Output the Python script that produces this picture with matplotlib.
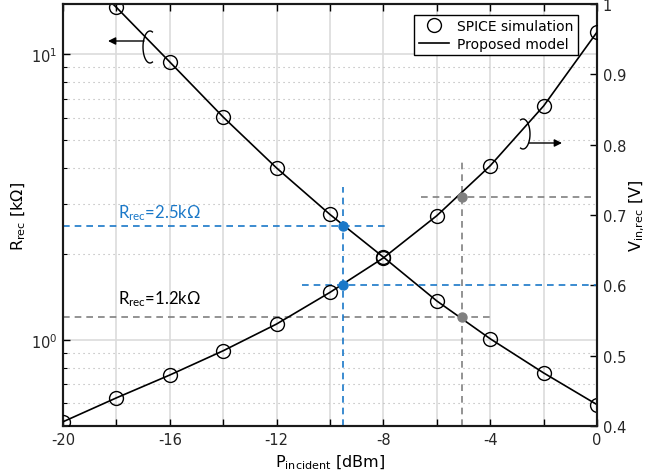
import numpy as np
import matplotlib
matplotlib.use("Agg")
import matplotlib.pyplot as plt
from matplotlib.ticker import NullFormatter, LogLocator
from matplotlib.lines import Line2D

plt.rcParams['mathtext.rm'] = 'Lato'
plt.rcParams['mathtext.it'] = 'Lato:italic'
plt.rcParams['mathtext.bf'] = 'Lato:bold'

# data
p_in = [-20, -18, -16, -14, -12, -10, -8, -6, -4, -2, 0]
r_rec = [22.0, 14.6, 9.4, 6.03, 4.0, 2.75, 1.95, 1.37, 1.01, 0.767, 0.594]
v_in = [0.406, 0.440, 0.4725, 0.507, 0.545, 0.590, 0.639, 0.699, 0.770, 0.855, 0.960]

x_ticks = [-20, -18, -16, -14, -12, -10, -8, -6, -4, -2, 0]
x_labels = ['-20', '', '-16', '', '-12', '', '-8', '', '-4', '', '0']
v_ticks = [0.4, 0.5, 0.6, 0.7, 0.8, 0.9, 1.0]
v_labels = ['0.4', '0.5', '0.6', '0.7', '0.8', '0.9', '1']

# operating points
blue_p, blue_r, blue_v = -9.5, 2.5, 0.6
gray_p, gray_r, gray_v = -5.05, 1.2, 0.726

blue = '#1a78c8'
gray = '#808080'
tick_col = '#262626'

fig = plt.figure(figsize=(6.49, 4.77), dpi=100)
ax1 = fig.add_subplot(111)
fig.subplots_adjust(left=63/649, right=597/649, top=1-5/477, bottom=1-427/477)
ax2 = ax1.twinx()

# left axis: R_rec (log)
ax1.set_yscale('log')
ax1.set_xlim(-20, 0)
ax1.set_ylim(0.5, 15)
ax1.yaxis.set_minor_locator(LogLocator(base=10, subs=np.arange(2, 10)))
ax1.yaxis.set_minor_formatter(NullFormatter())
ax1.set_xticks(x_ticks)
ax1.set_xticklabels(x_labels)
ax1.grid(which='major', axis='both', color='#dcdcdc', lw=1.2, ls='-')
ax1.grid(which='minor', axis='y', color='#b0b0b0', lw=0.8, ls=(0, (1, 3.5)))
ax1.set_axisbelow(True)

ax1.plot(p_in, r_rec, '-', color='black', lw=1.2, zorder=3)
ax1.plot(p_in, r_rec, 'o', mfc='none', mec='black', ms=10, mew=1.0, zorder=3)

# right axis: V_in,rec
ax2.set_ylim(0.4, 1.0)
ax2.set_yticks(v_ticks)
ax2.set_yticklabels(v_labels)
ax2.plot(p_in, v_in, '-', color='black', lw=1.2, zorder=3)
ax2.plot(p_in, v_in, 'o', mfc='none', mec='black', ms=10, mew=1.0, zorder=3)

# dashed guide lines
dash = (0, (4, 3))
ax1.plot([-20, -7.87], [blue_r, blue_r], color=blue, lw=1.2, ls=dash)
ax2.plot([blue_p, blue_p], [0.4, 0.74], color=blue, lw=1.2, ls=dash)
ax2.plot([-11.05, 0], [blue_v, blue_v], color=blue, lw=1.2, ls=dash)
ax1.plot(blue_p, blue_r, 'o', color=blue, ms=6.5, zorder=4)
ax2.plot(blue_p, blue_v, 'o', color=blue, ms=6.5, zorder=4)

ax1.plot([-20, -3.93], [gray_r, gray_r], color=gray, lw=1.2, ls=dash)
ax2.plot([gray_p, gray_p], [0.4, 0.777], color=gray, lw=1.2, ls=dash)
ax2.plot([-6.6, 0], [gray_v, gray_v], color=gray, lw=1.2, ls=dash)
ax1.plot(gray_p, gray_r, 'o', color=gray, ms=6.5, zorder=4)
ax2.plot(gray_p, gray_v, 'o', color=gray, ms=6.5, zorder=4)

ax1.text(-16.4, 2.81, r'R$_{\rm rec}$=2.5kΩ', color=blue, fontsize=12,
         family=['Lato', 'DejaVu Sans'], math_fontfamily='custom',
         ha='center', va='center')
ax1.text(-16.4, 1.40, r'R$_{\rm rec}$=1.2kΩ', color='black', fontsize=12,
         family=['Lato', 'DejaVu Sans'], math_fontfamily='custom',
         ha='center', va='center')

# curl markers with arrows (pixel positions -> axes fraction)
def frac(px, py):
    return (px - 63) / 534, (427 - py) / 422

def curl(cx, cy, rx, ry, t0, t1):
    t = np.radians(np.linspace(t0, t1, 60))
    xs, ys = zip(*[frac(cx + rx * np.cos(a), cy - ry * np.sin(a)) for a in t])
    ax2.plot(xs, ys, color='black', lw=1.0, transform=ax2.transAxes, clip_on=False)

curl(150, 48, 7, 16, 70, 290)
ax2.annotate('', xy=frac(108, 42), xytext=frac(144, 42),
             xycoords='axes fraction', textcoords='axes fraction',
             arrowprops=dict(arrowstyle='-|>', color='black', lw=1.0,
                             mutation_scale=11, shrinkA=0, shrinkB=0))
curl(523, 135, 7, 15, 110, -110)
ax2.annotate('', xy=frac(562, 144), xytext=frac(529, 144),
             xycoords='axes fraction', textcoords='axes fraction',
             arrowprops=dict(arrowstyle='-|>', color='black', lw=1.0,
                             mutation_scale=11, shrinkA=0, shrinkB=0))

# ticks, spines, labels
for ax in (ax1, ax2):
    ax.tick_params(which='both', direction='in', labelsize=10.5, labelcolor=tick_col)
    ax.tick_params(which='major', length=5, width=1.0, pad=4)
    ax.tick_params(which='minor', length=3, width=0.8)
    for s in ax.spines.values():
        s.set_linewidth(1.5)
        s.set_color('#1a1a1a')
ax1.tick_params(axis='x', top=True)
ax1.set_xlabel(r'P$_{\rm incident}$ [dBm]', fontsize=11.5, labelpad=4,
               math_fontfamily='dejavusans')
ax1.set_ylabel(r'R$_{\rm rec}$ [kΩ]', fontsize=11.5, labelpad=2,
               math_fontfamily='dejavusans')
ax2.set_ylabel(r'V$_{\rm in{,}rec}$ [V]', fontsize=11.5, labelpad=1,
               math_fontfamily='dejavusans')

handles = [Line2D([], [], ls='none', marker='o', mfc='none', mec='black', ms=10, mew=1.0),
           Line2D([], [], color='black', lw=1.2)]
leg = ax2.legend(handles, ['SPICE simulation', 'Proposed model'], loc='upper right',
                 bbox_to_anchor=(0.9644, 0.974), borderaxespad=0, fontsize=10,
                 fancybox=False, framealpha=1, edgecolor='black',
                 handlelength=2.2, borderpad=0.3, labelspacing=0.3, handletextpad=0.6)
leg.get_frame().set_linewidth(1.0)

fig.savefig('out.png', dpi=100)
